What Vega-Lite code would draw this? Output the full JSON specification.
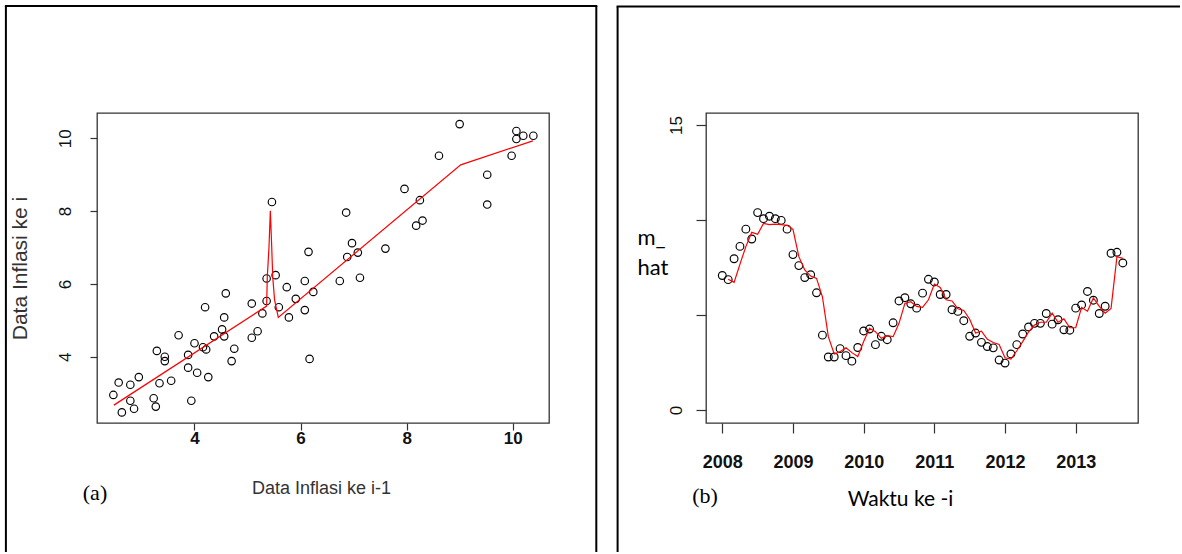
{
  "$schema": "https://vega.github.io/schema/vega-lite/v6.json",
  "padding": {"left": 3, "top": 3, "right": 0, "bottom": 0},
  "background": "white",
  "config": {
    "view": {"stroke": "#333333", "strokeWidth": 1.3},
    "font": "Liberation Sans"
  },
  "datasets": {
    "lag": [
      {"prev": 7.08, "cur": 6.86}, {"prev": 6.86, "cur": 7.96}, {"prev": 7.96, "cur": 8.61}, {"prev": 8.61, "cur": 9.52},
      {"prev": 9.52, "cur": 9.0}, {"prev": 9.0, "cur": 10.39}, {"prev": 10.39, "cur": 10.07}, {"prev": 10.07, "cur": 10.2},
      {"prev": 10.2, "cur": 10.07}, {"prev": 10.07, "cur": 9.98}, {"prev": 9.98, "cur": 9.52}, {"prev": 9.52, "cur": 8.18},
      {"prev": 8.18, "cur": 7.6}, {"prev": 7.6, "cur": 6.97}, {"prev": 6.97, "cur": 7.12}, {"prev": 7.12, "cur": 6.17},
      {"prev": 6.17, "cur": 3.94}, {"prev": 3.94, "cur": 2.79}, {"prev": 2.79, "cur": 2.79}, {"prev": 2.79, "cur": 3.23},
      {"prev": 3.23, "cur": 2.86}, {"prev": 2.86, "cur": 2.57}, {"prev": 2.57, "cur": 3.29}, {"prev": 3.29, "cur": 4.16},
      {"prev": 4.16, "cur": 4.26}, {"prev": 4.26, "cur": 3.44}, {"prev": 3.44, "cur": 3.88}, {"prev": 3.88, "cur": 3.7},
      {"prev": 3.7, "cur": 4.59}, {"prev": 4.59, "cur": 5.74}, {"prev": 5.74, "cur": 5.91}, {"prev": 5.91, "cur": 5.59},
      {"prev": 5.59, "cur": 5.36}, {"prev": 5.36, "cur": 6.15}, {"prev": 6.15, "cur": 6.88}, {"prev": 6.88, "cur": 6.74},
      {"prev": 6.74, "cur": 6.08}, {"prev": 6.08, "cur": 6.08}, {"prev": 6.08, "cur": 5.28}, {"prev": 5.28, "cur": 5.19},
      {"prev": 5.19, "cur": 4.7}, {"prev": 4.7, "cur": 3.88}, {"prev": 3.88, "cur": 4.05}, {"prev": 4.05, "cur": 3.56},
      {"prev": 3.56, "cur": 3.34}, {"prev": 3.34, "cur": 3.27}, {"prev": 3.27, "cur": 2.63}, {"prev": 2.63, "cur": 2.47},
      {"prev": 2.47, "cur": 2.95}, {"prev": 2.95, "cur": 3.44}, {"prev": 3.44, "cur": 4.0}, {"prev": 4.0, "cur": 4.37},
      {"prev": 4.37, "cur": 4.56}, {"prev": 4.56, "cur": 4.56}, {"prev": 4.56, "cur": 5.08}, {"prev": 5.08, "cur": 4.52},
      {"prev": 4.52, "cur": 4.75}, {"prev": 4.75, "cur": 4.22}, {"prev": 4.22, "cur": 4.2}, {"prev": 4.2, "cur": 5.36},
      {"prev": 5.36, "cur": 5.53}, {"prev": 5.53, "cur": 6.24}, {"prev": 6.24, "cur": 5.78}, {"prev": 5.78, "cur": 5.08},
      {"prev": 5.08, "cur": 5.46}, {"prev": 5.46, "cur": 8.25}, {"prev": 8.25, "cur": 8.3}, {"prev": 8.3, "cur": 7.74}
    ],
    "lagfit": [
      {"x": 2.48, "m": 2.67}, {"x": 5.36, "m": 5.39}, {"x": 5.373, "m": 6.2}, {"x": 5.405, "m": 7.02},
      {"x": 5.43, "m": 8.01}, {"x": 5.456, "m": 7.02}, {"x": 5.475, "m": 6.2}, {"x": 5.51, "m": 5.56},
      {"x": 5.58, "m": 5.08}, {"x": 9.02, "m": 9.27}, {"x": 10.38, "m": 9.93}
    ],
    "series": [
      {"time": 2008.0, "v": 7.08}, {"time": 2008.0833, "v": 6.86}, {"time": 2008.1667, "v": 7.96}, {"time": 2008.25, "v": 8.61},
      {"time": 2008.3333, "v": 9.52}, {"time": 2008.4167, "v": 9.0}, {"time": 2008.5, "v": 10.39}, {"time": 2008.5833, "v": 10.07},
      {"time": 2008.6667, "v": 10.2}, {"time": 2008.75, "v": 10.07}, {"time": 2008.8333, "v": 9.98}, {"time": 2008.9167, "v": 9.52},
      {"time": 2009.0, "v": 8.18}, {"time": 2009.0833, "v": 7.6}, {"time": 2009.1667, "v": 6.97}, {"time": 2009.25, "v": 7.12},
      {"time": 2009.3333, "v": 6.17}, {"time": 2009.4167, "v": 3.94}, {"time": 2009.5, "v": 2.79}, {"time": 2009.5833, "v": 2.79},
      {"time": 2009.6667, "v": 3.23}, {"time": 2009.75, "v": 2.86}, {"time": 2009.8333, "v": 2.57}, {"time": 2009.9167, "v": 3.29},
      {"time": 2010.0, "v": 4.16}, {"time": 2010.0833, "v": 4.26}, {"time": 2010.1667, "v": 3.44}, {"time": 2010.25, "v": 3.88},
      {"time": 2010.3333, "v": 3.7}, {"time": 2010.4167, "v": 4.59}, {"time": 2010.5, "v": 5.74}, {"time": 2010.5833, "v": 5.91},
      {"time": 2010.6667, "v": 5.59}, {"time": 2010.75, "v": 5.36}, {"time": 2010.8333, "v": 6.15}, {"time": 2010.9167, "v": 6.88},
      {"time": 2011.0, "v": 6.74}, {"time": 2011.0833, "v": 6.08}, {"time": 2011.1667, "v": 6.08}, {"time": 2011.25, "v": 5.28},
      {"time": 2011.3333, "v": 5.19}, {"time": 2011.4167, "v": 4.7}, {"time": 2011.5, "v": 3.88}, {"time": 2011.5833, "v": 4.05},
      {"time": 2011.6667, "v": 3.56}, {"time": 2011.75, "v": 3.34}, {"time": 2011.8333, "v": 3.27}, {"time": 2011.9167, "v": 2.63},
      {"time": 2012.0, "v": 2.47}, {"time": 2012.0833, "v": 2.95}, {"time": 2012.1667, "v": 3.44}, {"time": 2012.25, "v": 4.0},
      {"time": 2012.3333, "v": 4.37}, {"time": 2012.4167, "v": 4.56}, {"time": 2012.5, "v": 4.56}, {"time": 2012.5833, "v": 5.08},
      {"time": 2012.6667, "v": 4.52}, {"time": 2012.75, "v": 4.75}, {"time": 2012.8333, "v": 4.22}, {"time": 2012.9167, "v": 4.2},
      {"time": 2013.0, "v": 5.36}, {"time": 2013.0833, "v": 5.53}, {"time": 2013.1667, "v": 6.24}, {"time": 2013.25, "v": 5.78},
      {"time": 2013.3333, "v": 5.08}, {"time": 2013.4167, "v": 5.46}, {"time": 2013.5, "v": 8.25}, {"time": 2013.5833, "v": 8.3},
      {"time": 2013.6667, "v": 7.74}
    ],
    "fit": [
      {"time": 2008.0833, "m": 6.88}, {"time": 2008.1667, "m": 6.72}, {"time": 2008.25, "m": 7.68}, {"time": 2008.3333, "m": 8.6},
      {"time": 2008.4167, "m": 9.35}, {"time": 2008.5, "m": 9.25}, {"time": 2008.5833, "m": 9.82}, {"time": 2008.6667, "m": 9.76},
      {"time": 2008.75, "m": 9.78}, {"time": 2008.8333, "m": 9.76}, {"time": 2008.9167, "m": 9.72}, {"time": 2009.0, "m": 9.51},
      {"time": 2009.0833, "m": 8.07}, {"time": 2009.1667, "m": 7.37}, {"time": 2009.25, "m": 7.05}, {"time": 2009.3333, "m": 6.93},
      {"time": 2009.4167, "m": 5.96}, {"time": 2009.5, "m": 3.86}, {"time": 2009.5833, "m": 2.95}, {"time": 2009.6667, "m": 3.07},
      {"time": 2009.75, "m": 3.28}, {"time": 2009.8333, "m": 3.02}, {"time": 2009.9167, "m": 2.81}, {"time": 2010.0, "m": 3.6},
      {"time": 2010.0833, "m": 4.3}, {"time": 2010.1667, "m": 4.12}, {"time": 2010.25, "m": 3.77}, {"time": 2010.3333, "m": 3.91},
      {"time": 2010.4167, "m": 3.86}, {"time": 2010.5, "m": 4.56}, {"time": 2010.5833, "m": 5.61}, {"time": 2010.6667, "m": 5.7},
      {"time": 2010.75, "m": 5.45}, {"time": 2010.8333, "m": 5.4}, {"time": 2010.9167, "m": 5.8}, {"time": 2011.0, "m": 6.63},
      {"time": 2011.0833, "m": 6.45}, {"time": 2011.1667, "m": 5.8}, {"time": 2011.25, "m": 5.74}, {"time": 2011.3333, "m": 5.33},
      {"time": 2011.4167, "m": 5.24}, {"time": 2011.5, "m": 4.78}, {"time": 2011.5833, "m": 4.05}, {"time": 2011.6667, "m": 4.15},
      {"time": 2011.75, "m": 3.72}, {"time": 2011.8333, "m": 3.55}, {"time": 2011.9167, "m": 3.45}, {"time": 2012.0, "m": 2.75},
      {"time": 2012.0833, "m": 2.68}, {"time": 2012.1667, "m": 3.12}, {"time": 2012.25, "m": 3.6}, {"time": 2012.3333, "m": 4.11},
      {"time": 2012.4167, "m": 4.47}, {"time": 2012.5, "m": 4.62}, {"time": 2012.5833, "m": 4.62}, {"time": 2012.6667, "m": 5.1},
      {"time": 2012.75, "m": 4.62}, {"time": 2012.8333, "m": 4.8}, {"time": 2012.9167, "m": 4.33}, {"time": 2013.0, "m": 4.33},
      {"time": 2013.0833, "m": 5.4}, {"time": 2013.1667, "m": 5.2}, {"time": 2013.25, "m": 5.9}, {"time": 2013.3333, "m": 5.45},
      {"time": 2013.4167, "m": 5.1}, {"time": 2013.5, "m": 5.35}, {"time": 2013.5833, "m": 8.07}, {"time": 2013.6667, "m": 7.98}
    ]
  },
  "hconcat": [
    {
      "width": 452,
      "height": 310,
      "layer": [
        {
          "data": {"values": [{}]},
          "mark": {"type": "rule", "stroke": "black", "strokeWidth": 2, "clip": false},
          "encoding": {
            "x": {"datum": 0.4436, "type": "quantitative", "scale": {"domain": [2.1614, 10.685], "nice": false, "zero": false}},
            "y": {"datum": 13.635, "type": "quantitative", "scale": {"domain": [2.179, 10.695], "nice": false, "zero": false}},
            "y2": {"datum": -1.365}
          }
        },
        {
          "data": {"values": [{}]},
          "mark": {"type": "rule", "stroke": "black", "strokeWidth": 2, "clip": false},
          "encoding": {
            "x": {"datum": 11.577, "type": "quantitative", "scale": {"domain": [2.1614, 10.685], "nice": false, "zero": false}},
            "y": {"datum": 13.635, "type": "quantitative", "scale": {"domain": [2.179, 10.695], "nice": false, "zero": false}},
            "y2": {"datum": -1.365}
          }
        },
        {
          "data": {"values": [{}]},
          "mark": {"type": "rule", "stroke": "black", "strokeWidth": 2, "strokeCap": "square", "clip": false},
          "encoding": {
            "x": {"datum": 0.4436, "type": "quantitative", "scale": {"domain": [2.1614, 10.685], "nice": false, "zero": false}},
            "x2": {"datum": 11.577},
            "y": {"datum": 13.635, "type": "quantitative", "scale": {"domain": [2.179, 10.695], "nice": false, "zero": false}}
          }
        },
        {
          "data": {"name": "lag"},
          "mark": {"type": "point", "shape": "circle", "filled": false, "stroke": "black", "strokeWidth": 1.15, "size": 56, "opacity": 1, "clip": false},
          "encoding": {
            "x": {
              "field": "prev", "type": "quantitative",
              "scale": {"domain": [2.1614, 10.685], "nice": false, "zero": false},
              "axis": {
                "values": [4, 6, 8, 10], "domain": false, "grid": false, "tickSize": 7, "tickColor": "#333333", "tickWidth": 1.2,
                "labelFont": "Liberation Sans", "labelFontSize": 17, "labelFontWeight": "bold", "labelColor": "#111111",
                "labelBaseline": "middle", "labelPadding": 8,
                "title": "Data Inflasi ke i-1", "titleFont": "Liberation Sans", "titleFontSize": 18, "titleFontWeight": "normal",
                "titleColor": "#333333", "titleX": 224, "titleY": 65, "titleBaseline": "middle", "titleAlign": "center"
              }
            },
            "y": {
              "field": "cur", "type": "quantitative",
              "scale": {"domain": [2.179, 10.695], "nice": false, "zero": false},
              "axis": {
                "values": [4, 6, 8, 10], "domain": false, "grid": false, "tickSize": 7, "tickColor": "#333333", "tickWidth": 1.2,
                "labelFont": "Liberation Sans", "labelFontSize": 17, "labelFontWeight": "normal", "labelColor": "#111111",
                "labelAngle": 270, "labelAlign": "center", "labelBaseline": "middle", "labelPadding": 25,
                "title": "Data Inflasi ke i", "titleFont": "Liberation Sans", "titleFontSize": 21, "titleFontWeight": "normal",
                "titleColor": "#333333", "titleX": -77, "titleAngle": 270, "titleBaseline": "middle", "titleAlign": "center"
              }
            }
          }
        },
        {
          "data": {"name": "lagfit"},
          "mark": {"type": "line", "color": "#ff0000", "strokeWidth": 1.2, "clip": false},
          "encoding": {
            "x": {"field": "x", "type": "quantitative", "scale": {"domain": [2.1614, 10.685], "nice": false, "zero": false}},
            "y": {"field": "m", "type": "quantitative", "scale": {"domain": [2.179, 10.695], "nice": false, "zero": false}}
          }
        },
        {
          "data": {"values": [{"label": "(a)"}]},
          "mark": {"type": "text", "font": "Liberation Serif", "fontSize": 22, "color": "black", "baseline": "middle", "align": "center", "clip": false},
          "encoding": {
            "text": {"field": "label"},
            "x": {"datum": 2.1237, "type": "quantitative", "scale": {"domain": [2.1614, 10.685], "nice": false, "zero": false}},
            "y": {"datum": 0.255, "type": "quantitative", "scale": {"domain": [2.179, 10.695], "nice": false, "zero": false}}
          }
        }
      ]
    },
    {
      "width": 432,
      "height": 310,
      "layer": [
        {
          "data": {"values": [{}]},
          "mark": {"type": "rule", "stroke": "black", "strokeWidth": 2, "clip": false},
          "encoding": {
            "x": {"datum": 2006.5187, "type": "quantitative", "scale": {"domain": [2007.7694, 2013.8814], "nice": false, "zero": false}},
            "y": {"datum": 21.242, "type": "quantitative", "scale": {"domain": [-0.684, 15.632], "nice": false, "zero": false}},
            "y2": {"datum": -7.473}
          }
        },
        {
          "data": {"values": [{}]},
          "mark": {"type": "rule", "stroke": "black", "strokeWidth": 2, "strokeCap": "square", "clip": false},
          "encoding": {
            "x": {"datum": 2006.5187, "type": "quantitative", "scale": {"domain": [2007.7694, 2013.8814], "nice": false, "zero": false}},
            "x2": {"datum": 2014.4615},
            "y": {"datum": 21.242, "type": "quantitative", "scale": {"domain": [-0.684, 15.632], "nice": false, "zero": false}}
          }
        },
        {
          "data": {"name": "series"},
          "mark": {"type": "point", "shape": "circle", "filled": false, "stroke": "black", "strokeWidth": 1.15, "size": 60, "opacity": 1, "clip": false},
          "encoding": {
            "x": {
              "field": "time", "type": "quantitative",
              "scale": {"domain": [2007.7694, 2013.8814], "nice": false, "zero": false},
              "axis": {
                "values": [2008, 2009, 2010, 2011, 2012, 2013], "format": "d", "domain": false, "grid": false,
                "tickSize": 10, "tickColor": "#333333", "tickWidth": 1.2,
                "labelFont": "Liberation Sans", "labelFontSize": 18, "labelFontWeight": "bold", "labelColor": "#111111",
                "labelBaseline": "middle", "labelPadding": 29,
                "title": "Waktu ke -i", "titleFont": "Lato", "titleFontSize": 21, "titleFontWeight": "normal",
                "titleColor": "black", "titleX": 194, "titleY": 76, "titleBaseline": "middle", "titleAlign": "center"
              }
            },
            "y": {
              "field": "v", "type": "quantitative",
              "scale": {"domain": [-0.684, 15.632], "nice": false, "zero": false},
              "axis": {
                "values": [0, 5, 10, 15], "domain": false, "grid": false, "tickSize": 10, "tickColor": "#333333", "tickWidth": 1.2,
                "labelExpr": "datum.value == 0 || datum.value == 15 ? datum.label : ''",
                "labelFont": "Liberation Sans", "labelFontSize": 17, "labelFontWeight": "normal", "labelColor": "#111111",
                "labelAngle": 270, "labelAlign": "center", "labelBaseline": "middle", "labelPadding": 20,
                "title": ["m_", "hat"], "titleFont": "Lato", "titleFontSize": 22, "titleFontWeight": "normal",
                "titleColor": "black", "titleX": -69, "titleY": 114, "titleAngle": 0, "titleAlign": "left",
                "titleBaseline": "top", "titleLineHeight": 30
              }
            }
          }
        },
        {
          "data": {"name": "fit"},
          "mark": {"type": "line", "color": "#ff0000", "strokeWidth": 1.2, "clip": false},
          "encoding": {
            "x": {"field": "time", "type": "quantitative", "scale": {"domain": [2007.7694, 2013.8814], "nice": false, "zero": false}},
            "y": {"field": "m", "type": "quantitative", "scale": {"domain": [-0.684, 15.632], "nice": false, "zero": false}}
          }
        },
        {
          "data": {"values": [{"label": "(b)"}]},
          "mark": {"type": "text", "font": "Liberation Serif", "fontSize": 22, "color": "black", "baseline": "middle", "align": "center", "clip": false},
          "encoding": {
            "text": {"field": "label"},
            "x": {"datum": 2007.755, "type": "quantitative", "scale": {"domain": [2007.7694, 2013.8814], "nice": false, "zero": false}},
            "y": {"datum": -4.526, "type": "quantitative", "scale": {"domain": [-0.684, 15.632], "nice": false, "zero": false}}
          }
        }
      ]
    }
  ],
  "spacing": 157,
  "bounds": "flush",
  "align": "none"
}
